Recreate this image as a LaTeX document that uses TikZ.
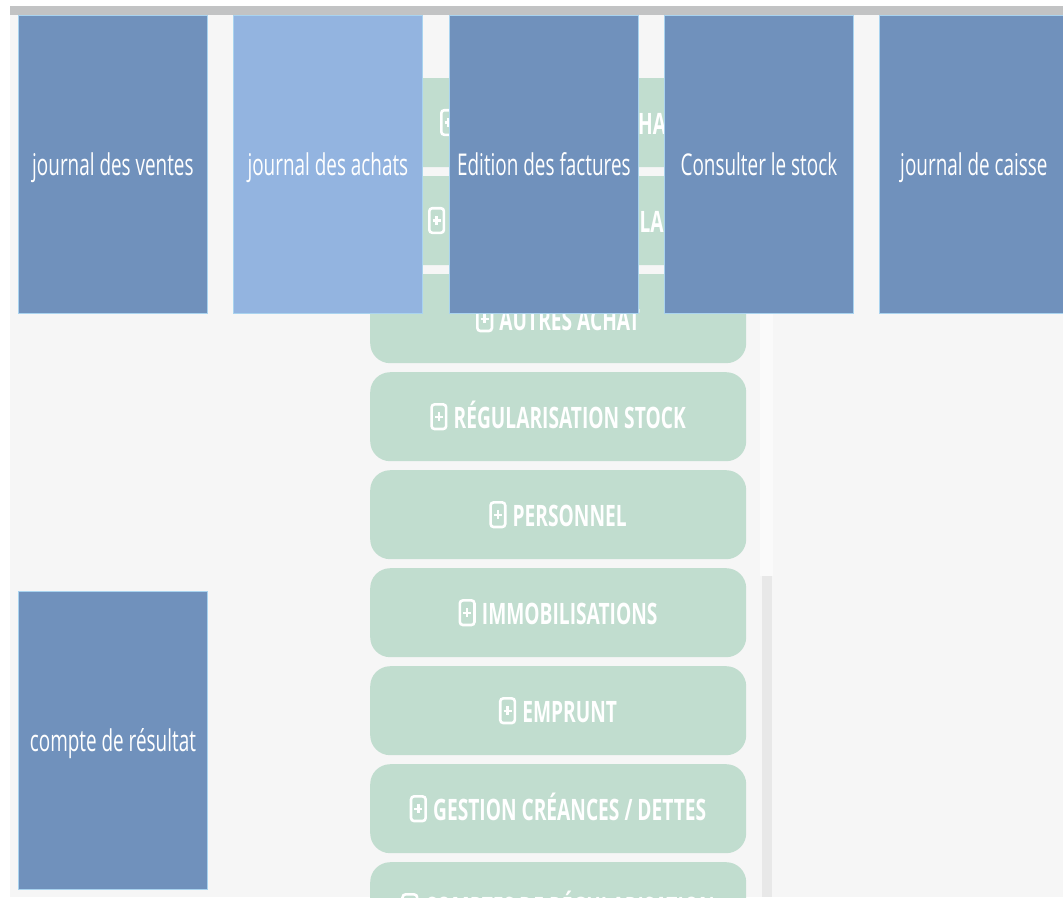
\documentclass[tikz,border=0pt]{standalone}
\usepackage{fontspec}
\newfontfamily\boxfont[FakeStretch=0.63]{Open Sans}
\newfontfamily\rowfont[FakeStretch=0.65]{Open Sans}
\definecolor{bgc}{HTML}{F6F6F6}
\definecolor{barc}{HTML}{C2C3C4}
\definecolor{rowgreen}{HTML}{C1DDCF}
\definecolor{tileblue}{HTML}{7091BC}
\definecolor{tilelight}{HTML}{93B4E0}
\definecolor{tileedge}{HTML}{A9D3EF}
\definecolor{scrollc}{HTML}{E8E8E8}
\definecolor{stripc}{HTML}{FAFAFA}
\tikzset{
  tile/.style={fill=tileblue, draw=tileedge, line width=0.8pt, minimum width=189pt,
    minimum height=298pt, inner sep=0pt, text height=22pt, text depth=0pt,
    anchor=north west, font=\boxfont\fontsize{30}{30}\selectfont, text=white},
  rowbox/.style={fill=rowgreen, rounded corners=20pt, minimum width=376pt,
    minimum height=89pt, inner sep=0pt, anchor=north west},
  rowtext/.style={font=\rowfont\bfseries\fontsize{29.5}{29.5}\selectfont, text=white, inner sep=0pt},
  plusicon/.style={draw=white, line width=2.6pt, rounded corners=3pt, minimum width=14.6pt,
    minimum height=24.6pt, inner sep=0pt, outer sep=1.3pt,
    path picture={
      \draw[white, line width=2.4pt] ([xshift=-4pt]path picture bounding box.center) -- ([xshift=4pt]path picture bounding box.center);
      \draw[white, line width=2.4pt] ([yshift=-4.5pt]path picture bounding box.center) -- ([yshift=4.5pt]path picture bounding box.center);
    }},
}
\newcommand\mkrow[3]{%
  \node[rowbox] (#1) at (370,#2) {};
  \node[rowtext, anchor=base] (#1t) at ([xshift=11.5pt,yshift=-12pt]#1.center) {#3};
  \node[plusicon, anchor=east, xshift=-6pt] (#1i) at (#1t.west |- #1.center) {};
}
\begin{document}
\begin{tikzpicture}[x=1pt, y=-1pt]
\useasboundingbox (0,0) rectangle (1063,897);
\clip (0,0) rectangle (1063,897);
\fill[white] (0,0) rectangle (1063,897);
\fill[bgc] (10,15) rectangle (1063,897);
\fill[barc] (10,6) rectangle (1063,15);
\fill[stripc] (760,15) rectangle (773,576);
\fill[scrollc] (762,576) rectangle (772,897);
% green menu rows
\node[rowbox] (r1) at (370,78) {};
\node[rowtext, anchor=base east] (r1t) at (676,134.5) {PRODUCTION / ACHAT};
\node[plusicon, anchor=west] (r1i) at (440,122.5) {};
\node[rowbox] (r2) at (370,176) {};
\node[rowtext, anchor=base east] (r2t) at (690.5,232.5) {VENTES AU DÉTAILLANT};
\node[plusicon, anchor=west] (r2i) at (428,220.5) {};
\mkrow{r3}{274}{AUTRES ACHAT}
\mkrow{r4}{372}{RÉGULARISATION STOCK}
\mkrow{r5}{470}{PERSONNEL}
\mkrow{r6}{568}{IMMOBILISATIONS}
\mkrow{r7}{666}{EMPRUNT}
\mkrow{r8}{764}{GESTION CRÉANCES / DETTES}
\mkrow{r9}{862}{COMPTES DE RÉGULARISATION}
% blue tiles
\node[tile] (jv) at (18,15) {journal des ventes};
\node[tile, fill=tilelight] (ja) at (233,15) {journal des achats};
\node[tile] (ef) at (449,15) {Edition des factures};
\node[tile] (cs) at (664,15) {Consulter le stock};
\node[tile] (jc) at (879,15) {journal de caisse};
\node[tile] (cr) at (18,591) {compte de résultat};
\end{tikzpicture}
\end{document}
